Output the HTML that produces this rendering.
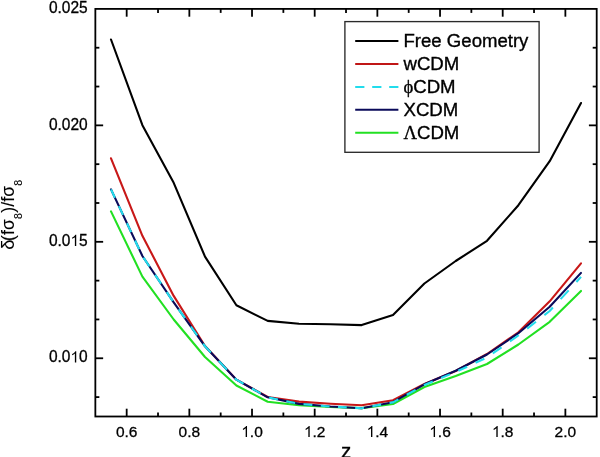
<!DOCTYPE html>
<html><head><meta charset="utf-8"><style>
html,body{margin:0;padding:0;background:#fff;}
body{width:600px;height:457px;overflow:hidden;position:relative;}
svg{position:absolute;left:0;top:0;will-change:transform;}
text{font-family:"Liberation Sans",sans-serif;fill:#000;}
</style></head><body>
<svg width="600" height="457" viewBox="0 0 600 457">
<g fill="none" stroke-linejoin="round" stroke-linecap="round">
<polyline points="111.0,39.5 142.4,125.2 173.7,182.8 205.0,256.6 236.4,305.3 267.7,320.9 299.0,323.8 330.4,324.3 361.7,325.1 393.0,315.1 424.4,283.5 455.7,261.0 487.0,240.8 518.4,205.2 549.7,161.2 581.0,103.0" stroke="#000" stroke-width="2.1"/>
<polyline points="111.0,211.4 142.4,276.6 173.7,319.5 205.0,357.0 236.4,385.5 267.7,401.7 299.0,405.3 330.4,407.0 361.7,408.1 393.0,404.0 424.4,387.0 455.7,375.9 487.0,364.0 518.4,344.5 549.7,321.8 581.0,290.9" stroke="#22e022" stroke-width="2.1"/>
<polyline points="111.0,158.3 142.4,235.8 173.7,295.9 205.0,346.0 236.4,379.6 267.7,397.0 299.0,401.6 330.4,403.8 361.7,405.3 393.0,400.2 424.4,384.0 455.7,371.0 487.0,354.0 518.4,332.3 549.7,301.3 581.0,263.4" stroke="#c81818" stroke-width="2.1"/>
<polyline points="111.0,189.4 142.4,256.0 173.7,302.4 205.0,346.3 236.4,379.7 267.7,397.3 299.0,403.9 330.4,406.5 361.7,408.2 393.0,402.2 424.4,384.3 455.7,370.8 487.0,354.5 518.4,333.2 549.7,306.8 581.0,272.9" stroke="#0a0a5a" stroke-width="2.1"/>
<path d="M111.02,189.40 L114.92,197.70 M118.87,206.10 L123.01,214.90 M126.97,223.30 L131.11,232.10 M135.06,240.50 L139.20,249.30 M143.50,257.70 L149.44,266.50 M155.11,274.90 L161.06,283.70 M166.73,292.10 L172.67,300.90 M178.61,309.30 L184.89,318.10 M190.89,326.50 L197.17,335.30 M203.16,343.70 L205.02,346.30 L210.84,352.50 M218.72,360.90 L226.97,369.70 M234.85,378.10 L236.35,379.70 L243.55,383.74 M251.95,388.46 L260.75,393.41 M269.15,397.61 L277.95,399.46 M286.35,401.23 L295.15,403.09 M303.55,404.28 L312.35,405.01 M320.75,405.70 L329.55,406.43 M337.95,406.91 L346.75,407.39 M355.15,407.85 L361.69,408.20 L363.95,407.78 M372.35,406.23 L381.15,404.60 M389.55,403.04 L393.03,402.40 L398.35,399.44 M406.75,394.78 L415.55,389.89 M423.95,385.23 L424.36,385.00 L432.75,381.52 M441.15,378.03 L449.95,374.38 M458.35,370.77 L467.15,366.70 M475.55,362.81 L484.35,358.74 M492.75,353.48 L501.55,347.30 M509.95,341.40 L518.36,335.50 L518.75,335.19 M527.15,328.63 L535.95,321.75 M544.35,315.18 L549.70,311.00 L552.87,307.54 M560.59,299.14 L568.68,290.34 M576.40,281.94 L581.03,276.90" stroke="#22dcec" stroke-width="2.1" stroke-linecap="butt"/>
</g>
<g stroke="#000" stroke-width="1.8" fill="none">
<line x1="126.68" y1="416.50" x2="126.68" y2="408.70"/><line x1="126.68" y1="8.90" x2="126.68" y2="16.70"/><line x1="158.02" y1="416.50" x2="158.02" y2="412.50"/><line x1="158.02" y1="8.90" x2="158.02" y2="12.90"/><line x1="189.35" y1="416.50" x2="189.35" y2="408.70"/><line x1="189.35" y1="8.90" x2="189.35" y2="16.70"/><line x1="220.69" y1="416.50" x2="220.69" y2="412.50"/><line x1="220.69" y1="8.90" x2="220.69" y2="12.90"/><line x1="252.02" y1="416.50" x2="252.02" y2="408.70"/><line x1="252.02" y1="8.90" x2="252.02" y2="16.70"/><line x1="283.36" y1="416.50" x2="283.36" y2="412.50"/><line x1="283.36" y1="8.90" x2="283.36" y2="12.90"/><line x1="314.69" y1="416.50" x2="314.69" y2="408.70"/><line x1="314.69" y1="8.90" x2="314.69" y2="16.70"/><line x1="346.02" y1="416.50" x2="346.02" y2="412.50"/><line x1="346.02" y1="8.90" x2="346.02" y2="12.90"/><line x1="377.36" y1="416.50" x2="377.36" y2="408.70"/><line x1="377.36" y1="8.90" x2="377.36" y2="16.70"/><line x1="408.69" y1="416.50" x2="408.69" y2="412.50"/><line x1="408.69" y1="8.90" x2="408.69" y2="12.90"/><line x1="440.03" y1="416.50" x2="440.03" y2="408.70"/><line x1="440.03" y1="8.90" x2="440.03" y2="16.70"/><line x1="471.36" y1="416.50" x2="471.36" y2="412.50"/><line x1="471.36" y1="8.90" x2="471.36" y2="12.90"/><line x1="502.70" y1="416.50" x2="502.70" y2="408.70"/><line x1="502.70" y1="8.90" x2="502.70" y2="16.70"/><line x1="534.03" y1="416.50" x2="534.03" y2="412.50"/><line x1="534.03" y1="8.90" x2="534.03" y2="12.90"/><line x1="565.37" y1="416.50" x2="565.37" y2="408.70"/><line x1="565.37" y1="8.90" x2="565.37" y2="16.70"/><line x1="95.35" y1="47.72" x2="99.35" y2="47.72"/><line x1="596.70" y1="47.72" x2="592.70" y2="47.72"/><line x1="95.35" y1="86.54" x2="99.35" y2="86.54"/><line x1="596.70" y1="86.54" x2="592.70" y2="86.54"/><line x1="95.35" y1="125.36" x2="103.15" y2="125.36"/><line x1="596.70" y1="125.36" x2="588.90" y2="125.36"/><line x1="95.35" y1="164.18" x2="99.35" y2="164.18"/><line x1="596.70" y1="164.18" x2="592.70" y2="164.18"/><line x1="95.35" y1="203.00" x2="99.35" y2="203.00"/><line x1="596.70" y1="203.00" x2="592.70" y2="203.00"/><line x1="95.35" y1="241.81" x2="103.15" y2="241.81"/><line x1="596.70" y1="241.81" x2="588.90" y2="241.81"/><line x1="95.35" y1="280.63" x2="99.35" y2="280.63"/><line x1="596.70" y1="280.63" x2="592.70" y2="280.63"/><line x1="95.35" y1="319.45" x2="99.35" y2="319.45"/><line x1="596.70" y1="319.45" x2="592.70" y2="319.45"/><line x1="95.35" y1="358.27" x2="103.15" y2="358.27"/><line x1="596.70" y1="358.27" x2="588.90" y2="358.27"/><line x1="95.35" y1="397.09" x2="99.35" y2="397.09"/><line x1="596.70" y1="397.09" x2="592.70" y2="397.09"/>
<rect x="95.35" y="8.9" width="501.35" height="407.60" stroke-linejoin="miter"/>
</g>
<g font-size="15.5" stroke="#000" stroke-width="0.3">
<g transform="translate(0,13.10) scale(1,1.020) translate(0,-13.10)"><text x="48.91" y="13.10">0.025</text></g><g transform="translate(0,129.56) scale(1,1.020) translate(0,-129.56)"><text x="48.91" y="129.56">0.020</text></g><g transform="translate(0,246.01) scale(1,1.020) translate(0,-246.01)"><text x="48.91" y="246.01">0.0</text><path transform="translate(70.46,246.01) scale(0.00757,-0.00757)" d="M763 0L583 0L583 1147C540 1106 483 1064 413 1023C343 982 280 951 223 930L223 1104C324 1151 412 1208 487 1274C562 1340 615 1404 646 1466L763 1466Z"/><text x="79.08" y="246.01">5</text></g><g transform="translate(0,362.47) scale(1,1.020) translate(0,-362.47)"><text x="48.91" y="362.47">0.0</text><path transform="translate(70.46,362.47) scale(0.00757,-0.00757)" d="M763 0L583 0L583 1147C540 1106 483 1064 413 1023C343 982 280 951 223 930L223 1104C324 1151 412 1208 487 1274C562 1340 615 1404 646 1466L763 1466Z"/><text x="79.08" y="362.47">0</text></g>
<g transform="translate(0,437.00) scale(1,1.000) translate(0,-437.00)"><text x="115.91" y="437.00">0.6</text></g><g transform="translate(0,437.00) scale(1,1.000) translate(0,-437.00)"><text x="178.58" y="437.00">0.8</text></g><g transform="translate(0,437.00) scale(1,1.000) translate(0,-437.00)"><path transform="translate(241.25,437.00) scale(0.00757,-0.00757)" d="M763 0L583 0L583 1147C540 1106 483 1064 413 1023C343 982 280 951 223 930L223 1104C324 1151 412 1208 487 1274C562 1340 615 1404 646 1466L763 1466Z"/><text x="249.87" y="437.00">.0</text></g><g transform="translate(0,437.00) scale(1,1.000) translate(0,-437.00)"><path transform="translate(303.92,437.00) scale(0.00757,-0.00757)" d="M763 0L583 0L583 1147C540 1106 483 1064 413 1023C343 982 280 951 223 930L223 1104C324 1151 412 1208 487 1274C562 1340 615 1404 646 1466L763 1466Z"/><text x="312.54" y="437.00">.2</text></g><g transform="translate(0,437.00) scale(1,1.000) translate(0,-437.00)"><path transform="translate(366.59,437.00) scale(0.00757,-0.00757)" d="M763 0L583 0L583 1147C540 1106 483 1064 413 1023C343 982 280 951 223 930L223 1104C324 1151 412 1208 487 1274C562 1340 615 1404 646 1466L763 1466Z"/><text x="375.21" y="437.00">.4</text></g><g transform="translate(0,437.00) scale(1,1.000) translate(0,-437.00)"><path transform="translate(429.25,437.00) scale(0.00757,-0.00757)" d="M763 0L583 0L583 1147C540 1106 483 1064 413 1023C343 982 280 951 223 930L223 1104C324 1151 412 1208 487 1274C562 1340 615 1404 646 1466L763 1466Z"/><text x="437.87" y="437.00">.6</text></g><g transform="translate(0,437.00) scale(1,1.000) translate(0,-437.00)"><path transform="translate(491.92,437.00) scale(0.00757,-0.00757)" d="M763 0L583 0L583 1147C540 1106 483 1064 413 1023C343 982 280 951 223 930L223 1104C324 1151 412 1208 487 1274C562 1340 615 1404 646 1466L763 1466Z"/><text x="500.54" y="437.00">.8</text></g><g transform="translate(0,437.00) scale(1,1.000) translate(0,-437.00)"><text x="554.59" y="437.00">2.0</text></g>
</g>
<text x="346.2" y="457.8" font-size="20.5" text-anchor="middle" stroke="#000" stroke-width="0.3">z</text>
<text transform="translate(13.8,249.8) rotate(-90)" font-size="17.5" letter-spacing="0.18" stroke="#000" stroke-width="0.1"><tspan font-size="18.5">δ</tspan><tspan dx="-1.6">(fσ</tspan><tspan font-size="10.5" dy="7.7">8</tspan><tspan dy="-7.7">)/fσ</tspan><tspan font-size="10.5" dy="7.7">8</tspan></text>
<g>
<rect x="344.9" y="21.6" width="194.2" height="130.7" fill="#fff" stroke="#2a2a2a" stroke-width="1.35"/>
<g stroke-width="2" fill="none">
<line x1="355.2" y1="41.1" x2="398.4" y2="41.1" stroke="#000"/>
<line x1="355.2" y1="64" x2="398.4" y2="64" stroke="#c01616"/>
<line x1="355.2" y1="86.9" x2="398.4" y2="86.9" stroke="#22dcec" stroke-dasharray="9.2 7.8"/>
<line x1="355.2" y1="109.8" x2="398.4" y2="109.8" stroke="#0a0a5a"/>
<line x1="355.2" y1="132.7" x2="398.4" y2="132.7" stroke="#22e022"/>
</g>
<g font-size="18.5" stroke="#000" stroke-width="0.35" transform="translate(403.5,0) scale(1.005,1) translate(-403.5,0)">
<text x="403.5" y="46.6">Free Geometry</text>
<text x="403.5" y="69.6">wCDM</text>
<text x="403.5" y="92.6"><tspan font-family="Liberation Serif">ϕ</tspan>CDM</text>
<text x="403.5" y="115.6">XCDM</text>
<text x="403.5" y="138.6"><tspan font-family="Liberation Serif">Λ</tspan>CDM</text>
</g>
</g>
</svg>
</body></html>
